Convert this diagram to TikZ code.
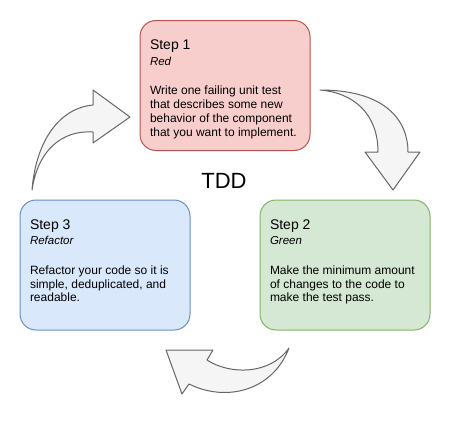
\documentclass[tikz,border=0pt]{standalone}
\usepackage{fontspec}
\setmainfont{Liberation Sans}
\usepackage{xcolor}
\usetikzlibrary{arrows.meta,positioning}

\definecolor{redfill}{HTML}{F8CECC}
\definecolor{redline}{HTML}{B85450}
\definecolor{greenfill}{HTML}{D5E8D4}
\definecolor{greenline}{HTML}{82B366}
\definecolor{bluefill}{HTML}{DAE8FC}
\definecolor{blueline}{HTML}{6C8EBF}
\definecolor{arrowfill}{HTML}{F5F5F5}
\definecolor{arrowline}{HTML}{666666}

\newcommand{\steptext}[3]{\parbox[c][130pt][t]{150pt}{\raggedright
	\fontsize{14}{16}\selectfont\rule{0pt}{29pt}#1\par
	\fontsize{11.5}{15.5}\selectfont\itshape #2\par
	\vspace{16pt}
	\fontsize{12}{13.8}\selectfont\upshape #3\par}}

\begin{document}
\begin{tikzpicture}[x=1pt,y=-1pt]
\useasboundingbox (0,0) rectangle (450,431);
\begin{scope}[every node/.style={rectangle,draw,line width=1pt,rounded corners=16pt,
	minimum width=170pt,minimum height=130pt,inner xsep=10pt,inner ysep=0pt}]
	\node[fill=redfill,draw=redline] (red) at (225,85.5) {\steptext{Step 1}{Red}{Write one failing unit test\\
	that describes some new\\behavior of the component\\that you want to implement.}};

	\node[fill=greenfill,draw=greenline] (green) at (345,265) {\steptext{Step 2}{Green}{Make the minimum amount\\
	of changes to the code to\\make the test pass.}};

	\node[fill=bluefill,draw=blueline] (refactor) at (105,265) {\steptext{Step 3}{Refactor}{Refactor your code so it is\\
	simple, deduplicated, and\\readable.}};
\end{scope}

\node[font=\fontsize{22}{24}\selectfont,anchor=base] (tdd) at (224,188) {TDD};

\begin{scope}[draw=arrowline,fill=arrowfill,line width=1pt,line join=round]
	% refactor -> red
	\filldraw (32,190) .. controls (36,140) and (60,108) .. (93,105) -- (93,90) -- (130,117)
	-- (93,143) -- (93,132) .. controls (62,130) and (38,150) .. (32,190) -- cycle;
	% red -> green
	\filldraw (320,90) .. controls (385,90) and (408,120) .. (408,152) -- (420,152) -- (393,190)
	-- (365,152) -- (378,152) .. controls (378,115) and (355,93) .. (320,90) -- cycle;
	% green -> refactor
	\filldraw (289,348) .. controls (272,392) and (225,402) .. (189,384) -- (182,394) -- (166,350)
	-- (213,350) -- (207,360) .. controls (230,375) and (270,375) .. (289,348) -- cycle;
\end{scope}
\end{tikzpicture}
\end{document}
